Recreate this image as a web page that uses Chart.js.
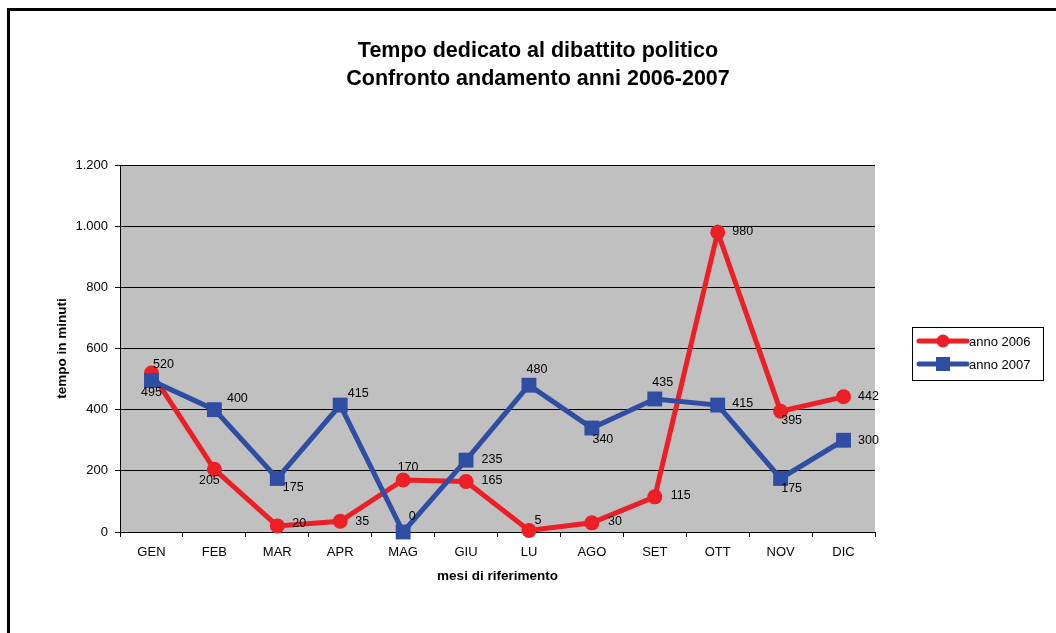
<!DOCTYPE html>
<html>
<head>
<meta charset="utf-8">
<script src="https://cdn.jsdelivr.net/npm/chart.js@4.4.1/dist/chart.umd.min.js"></script>
<style>
  html, body { margin: 0; padding: 0; background: #fff; }
  canvas { display: block; }
</style>
</head>
<body>
<canvas id="chart" width="1056" height="633"></canvas>
<script>
// Monthly minutes of political debate, 2006 vs 2007
const months = ['GEN', 'FEB', 'MAR', 'APR', 'MAG', 'GIU', 'LU', 'AGO', 'SET', 'OTT', 'NOV', 'DIC'];
const minutes2006 = [520, 205, 20, 35, 170, 165, 5, 30, 115, 980, 395, 442];
const minutes2007 = [495, 400, 175, 415, 0, 235, 480, 340, 435, 415, 175, 300];
const yTickLabels = ['0', '200', '400', '600', '800', '1.000', '1.200'];

const seriesNames = ['anno 2006', 'anno 2007'];
const titleLines = ['Tempo dedicato al dibattito politico', 'Confronto andamento anni 2006-2007'];
const xTitle = 'mesi di riferimento';
const yTitle = 'tempo in minuti';

const RED = '#ED1F26';
const BLUE = '#2E4DA3';
const FONT = '"Liberation Sans", Arial, sans-serif';

// value label nudges (dx, dy) relative to each point, one list per dataset
const labelShift2006 = [[12,-8],[-5,11],[22,-2],[22,0],[5,-12],[26,-1],[9,-10],[23,-1],[26,-1],[25,-1],[11,9],[25,0]];
const labelShift2007 = [[0,12],[23,-11],[16,9],[18,-12],[9,-15],[26,-1],[8,-16],[11,12],[8,-16],[25,-2],[11,10],[25,0]];
const labelShifts = [labelShift2006, labelShift2007];

const frameAndText = {
  id: 'frameAndText',
  beforeDraw(chart) {
    const { ctx, chartArea: a } = chart;
    ctx.save();
    ctx.fillStyle = '#fff';
    ctx.fillRect(0, 0, chart.width, chart.height);
    ctx.fillStyle = '#C0C0C0';
    ctx.fillRect(a.left, a.top, a.right - a.left, a.bottom - a.top);
    ctx.restore();
  },
  afterDraw(chart) {
    const { ctx, chartArea: a } = chart;
    ctx.save();
    // outer frame
    ctx.strokeStyle = '#000';
    ctx.lineWidth = 3;
    ctx.strokeRect(8.5, 9.5, 1200, 800);

    // title
    ctx.fillStyle = '#000';
    ctx.textAlign = 'center';
    ctx.textBaseline = 'middle';
    ctx.font = 'bold 21.5px ' + FONT;
    ctx.fillText(titleLines[0], 538, 51);
    ctx.fillText(titleLines[1], 538, 79);

    // axis titles
    ctx.font = 'bold 13.5px ' + FONT;
    ctx.fillText(xTitle, (a.left + a.right) / 2, 576);
    ctx.save();
    ctx.translate(62, (a.top + a.bottom) / 2);
    ctx.rotate(-Math.PI / 2);
    ctx.fillText(yTitle, 0, 0);
    ctx.restore();

    // legend
    ctx.lineWidth = 1;
    ctx.strokeStyle = '#000';
    ctx.strokeRect(912.5, 327.5, 131, 53);
    const rows = [
      { y: 341, color: RED, shape: 'circle', name: seriesNames[0] },
      { y: 364, color: BLUE, shape: 'rect', name: seriesNames[1] }
    ];
    rows.forEach(r => {
      ctx.strokeStyle = r.color;
      ctx.lineWidth = 5;
      ctx.lineCap = 'round';
      ctx.beginPath();
      ctx.moveTo(919, r.y);
      ctx.lineTo(967, r.y);
      ctx.stroke();
      ctx.fillStyle = r.color;
      if (r.shape === 'circle') {
        ctx.beginPath();
        ctx.arc(943, r.y, 6.5, 0, Math.PI * 2);
        ctx.fill();
      } else {
        ctx.fillRect(936, r.y - 7, 14, 14);
      }
      ctx.fillStyle = '#000';
      ctx.font = '13px ' + FONT;
      ctx.textAlign = 'left';
      ctx.fillText(r.name, 969, r.y + 1);
    });
    ctx.restore();
  },
  afterDatasetsDraw(chart) {
    const { ctx } = chart;
    ctx.save();
    ctx.fillStyle = '#000';
    ctx.font = '12.5px ' + FONT;
    ctx.textAlign = 'center';
    ctx.textBaseline = 'middle';
    chart.data.datasets.forEach((ds, i) => {
      const meta = chart.getDatasetMeta(i);
      meta.data.forEach((pt, j) => {
        const [dx, dy] = labelShifts[i][j];
        ctx.fillText(String(ds.data[j]), pt.x + dx, pt.y + dy);
      });
    });
    ctx.restore();
  }
};

new Chart(document.getElementById('chart'), {
  type: 'line',
  data: {
    labels: months,
    datasets: [
      {
        label: seriesNames[0],
        data: minutes2006,
        borderColor: RED,
        backgroundColor: RED,
        borderWidth: 5,
        pointStyle: 'circle',
        pointRadius: 7.5,
        pointBorderWidth: 0,
        tension: 0,
        clip: false,
        order: 1
      },
      {
        label: seriesNames[1],
        data: minutes2007,
        borderColor: BLUE,
        backgroundColor: BLUE,
        borderWidth: 5,
        pointStyle: 'rect',
        pointRadius: 10.5,
        pointBorderWidth: 0,
        tension: 0,
        clip: false,
        order: 0
      }
    ]
  },
  options: {
    responsive: false,
    animation: false,
    devicePixelRatio: 1,
    layout: { padding: { left: 0, top: 165, right: 181, bottom: 0 } },
    plugins: {
      legend: { display: false },
      title: { display: false },
      tooltip: { enabled: false }
    },
    scales: {
      x: {
        offset: true,
        grid: {
          offset: true,
          drawOnChartArea: false,
          drawTicks: true,
          tickLength: 5,
          color: '#000'
        },
        border: { color: '#000', width: 1 },
        ticks: {
          color: '#000',
          font: { family: FONT, size: 13 },
          padding: 8,
          maxRotation: 0,
          autoSkip: false
        },
        afterFit(s) {
          s.height = 101;
          s.paddingLeft = 0; s.paddingRight = 0;
        }
      },
      y: {
        min: 0,
        max: 1200,
        ticks: {
          stepSize: 200,
          color: '#000',
          font: { family: FONT, size: 13 },
          padding: 7,
          callback: (v, i) => yTickLabels[i]
        },
        grid: {
          color: '#000',
          lineWidth: 1,
          tickLength: 5,
          drawTicks: true
        },
        border: { color: '#000', width: 1 },
        afterFit(s) {
          s.width = 120;
          s.paddingTop = 0; s.paddingBottom = 0;
        }
      }
    }
  },
  plugins: [frameAndText]
});
</script>
</body>
</html>
